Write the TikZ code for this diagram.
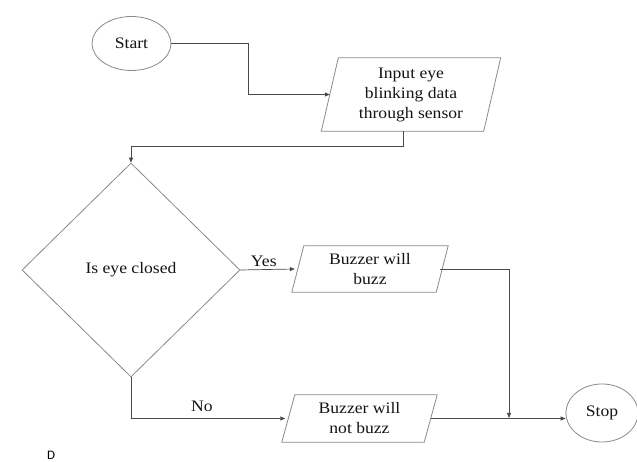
\documentclass[tikz,border=0pt]{standalone}
\usepackage{fontspec}
\setmainfont{Liberation Serif}[FakeStretch=1.1]
\newfontfamily\dfont{Carlito}
\usetikzlibrary{shapes.geometric,arrows.meta,calc}
\definecolor{shapegray}{HTML}{8A8A8A}
\definecolor{linegray}{HTML}{4A4A4A}
\definecolor{txt}{HTML}{141414}
\begin{document}
\begin{tikzpicture}[x=1pt,y=1pt,
  every node/.style={text=txt,font=\fontsize{16}{20}\selectfont},
  term/.style={ellipse,draw=shapegray,line width=0.8pt,inner sep=0pt},
  io/.style={rectangle,inner sep=0pt,align=center},
  decision/.style={diamond,draw=shapegray,line width=0.8pt,inner sep=0pt},
  conn/.style={draw=linegray,line width=0.7pt,-{Triangle[length=5pt,width=4pt]}},
  lbl/.style={above,inner sep=3pt}
]
\useasboundingbox (0,0) rectangle (637,462);
\fill[white] (0,0) rectangle (637,462);

% nodes
\node[term,minimum width=79pt,minimum height=54pt] (start) at (131.5,418.5) {Start};
\node[io,minimum width=162pt,minimum height=73pt] (input) at (411,367.5) {Input eye\\blinking data\\through sensor};
\node[decision,minimum width=218pt,minimum height=214pt] (dec) at (131,192) {Is eye closed};
\node[io,minimum width=144pt,minimum height=46pt] (buzz) at (370,193) {Buzzer will\\buzz};
\node[io,minimum width=142pt,minimum height=47pt] (nobuzz) at (359.5,43.5) {Buzzer will\\not buzz};
\node[term,minimum width=72pt,minimum height=58pt] (stop) at (602,49) {Stop};
\node[font=\dfont\fontsize{13}{15}\selectfont,text=black] (dlabel) at (51,7) {D};
\coordinate (join) at (509,44);

% parallelogram outlines
\draw[shapegray,line width=0.8pt] ([xshift=8.5pt]input.north west) -- ([xshift=8.5pt]input.north east) -- ([xshift=-8.5pt]input.south east) -- ([xshift=-8.5pt]input.south west) -- cycle;
\draw[shapegray,line width=0.8pt] ([xshift=6pt]buzz.north west) -- ([xshift=6pt]buzz.north east) -- ([xshift=-6pt]buzz.south east) -- ([xshift=-6pt]buzz.south west) -- cycle;
\draw[shapegray,line width=0.8pt] ([xshift=6.5pt]nobuzz.north west) -- ([xshift=6.5pt]nobuzz.north east) -- ([xshift=-6.5pt]nobuzz.south east) -- ([xshift=-6.5pt]nobuzz.south west) -- cycle;

% connectors
\draw[conn] (start.east) -- ++(77,0) |- (input.west);
\draw[conn] ([xshift=-8pt]input.south) -- ++(0,-15) -| (dec.north);
\draw[conn] (dec.east) -- node[lbl,pos=0.43] (yes) {Yes} ([xshift=-3pt]buzz.west);
\draw[conn] (dec.south) |- node[lbl,pos=0.73,inner sep=6pt] (no) {No} ([xshift=-3pt]nobuzz.west);
\draw[conn] ([xshift=-2pt]buzz.east) -| (join);
\draw[conn] (nobuzz.east) -- (nobuzz.east -| stop.west);
\end{tikzpicture}
\end{document}
